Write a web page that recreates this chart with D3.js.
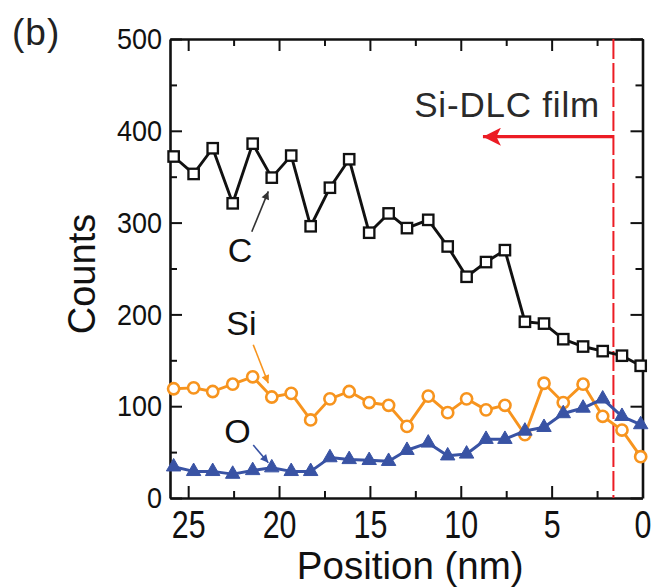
<!DOCTYPE html>
<html>
<head>
<meta charset="utf-8">
<script src="https://cdn.jsdelivr.net/npm/d3@7"></script>
<style>
  html, body { margin: 0; padding: 0; background: #fff; }
  svg { display: block; font-family: "Liberation Sans", Arial, Helvetica, sans-serif; }
</style>
</head>
<body>
<svg id="chart" width="653" height="588"></svg>
<script>
// ---- data ----
const positions = [25.8, 24.7, 23.65, 22.55, 21.45, 20.4, 19.33, 18.26, 17.2, 16.14, 15.04, 13.97, 12.96, 11.79, 10.72, 9.68, 8.61, 7.57, 6.47, 5.42, 4.36, 3.27, 2.19, 1.13, 0.1];
const carbon  = [372, 353, 381, 321, 386, 349, 373, 296, 338, 369, 289, 310, 294, 303, 274, 241, 257, 270, 192, 190, 173, 165, 160, 155, 144];
const silicon = [119, 120, 116, 124, 132, 110, 114, 85, 108, 116, 104, 101, 78, 111, 93, 108, 96, 101, 69, 125, 104, 124, 89, 74, 45];
const oxygen  = [34, 29, 29, 26, 30, 33, 29, 29, 44, 42, 41, 40, 52, 60, 46, 48, 64, 64, 73, 77, 92, 98, 108, 89, 80];
const xTicks = [25, 20, 15, 10, 5, 0];
const xMinorTicks = [22.5, 17.5, 12.5, 7.5, 2.5];
const yTicks = [0, 100, 200, 300, 400, 500];
const yMinorTicks = [50, 150, 250, 350, 450];
const interfacePos = 1.6;
const filmLabel = "Si-DLC film";
const xLabel = "Position (nm)";
const yLabel = "Counts";
const panelLabel = "(b)";
// annotation labels with arrows (data coordinates)
const annotations = [
  { label: "C",  color: "#333333", tx: 22.15, ty: 257, x1: 21.5,  y1: 290,   x2: 20.59, y2: 334 },
  { label: "Si", color: "#f7941e", tx: 22.07, ty: 178, x1: 21.42, y1: 167,   x2: 20.59, y2: 125 },
  { label: "O",  color: "#3953a4", tx: 22.29, ty: 60,  x1: 21.42, y1: 57.7,  x2: 20.59, y2: 38.5 }
];

const svg = d3.select("#chart");
const L = 170, R = 642.5, T = 39, B = 498;
const x = d3.scaleLinear().domain([26, 0]).range([L, R]);
const y = d3.scaleLinear().domain([0, 500]).range([B, T]);

const black = "#111";
const orange = "#f7941e";
const blue = "#3953a4";
const red = "#ec1c24";

// ---- axes (frame with inward ticks) ----
function styleAxis(g) {
  g.select(".domain").attr("stroke", black).attr("stroke-width", 2.6);
  g.selectAll(".tick line").attr("stroke", black).attr("stroke-width", 2);
}
// bottom
const gB = svg.append("g").attr("transform", `translate(0,${B})`)
  .call(d3.axisBottom(x).tickValues(xTicks).tickSize(-12).tickSizeOuter(0).tickPadding(13).tickFormat(d3.format("d")));
styleAxis(gB);
gB.selectAll(".tick text").attr("font-size", 38).attr("fill", black)
  .attr("font-family", "Liberation Sans, Arial, sans-serif").attr("transform", "scale(0.8,1)");
svg.append("g").attr("transform", `translate(0,${B})`)
  .call(d3.axisBottom(x).tickValues(xMinorTicks).tickSize(-7).tickSizeOuter(0).tickFormat(""))
  .call(g => { g.select(".domain").remove(); g.selectAll(".tick line").attr("stroke", black).attr("stroke-width", 2); });
// top
const gT = svg.append("g").attr("transform", `translate(0,${T})`)
  .call(d3.axisTop(x).tickValues(xTicks).tickSize(-12).tickSizeOuter(0).tickFormat(""));
styleAxis(gT);
svg.append("g").attr("transform", `translate(0,${T})`)
  .call(d3.axisTop(x).tickValues(xMinorTicks).tickSize(-7).tickSizeOuter(0).tickFormat(""))
  .call(g => { g.select(".domain").remove(); g.selectAll(".tick line").attr("stroke", black).attr("stroke-width", 2); });
// left
const gL = svg.append("g").attr("transform", `translate(${L},0)`)
  .call(d3.axisLeft(y).tickValues(yTicks).tickSize(-12).tickSizeOuter(0).tickPadding(9).tickFormat(d3.format("d")));
styleAxis(gL);
gL.selectAll(".tick text").attr("font-size", 30).attr("fill", black)
  .attr("font-family", "Liberation Sans, Arial, sans-serif").attr("transform", "scale(0.9,1)");
svg.append("g").attr("transform", `translate(${L},0)`)
  .call(d3.axisLeft(y).tickValues(yMinorTicks).tickSize(-7).tickSizeOuter(0).tickFormat(""))
  .call(g => { g.select(".domain").remove(); g.selectAll(".tick line").attr("stroke", black).attr("stroke-width", 2); });
// right
const gR = svg.append("g").attr("transform", `translate(${R},0)`)
  .call(d3.axisRight(y).tickValues(yTicks).tickSize(-12).tickSizeOuter(0).tickFormat(""));
styleAxis(gR);
svg.append("g").attr("transform", `translate(${R},0)`)
  .call(d3.axisRight(y).tickValues(yMinorTicks).tickSize(-7).tickSizeOuter(0).tickFormat(""))
  .call(g => { g.select(".domain").remove(); g.selectAll(".tick line").attr("stroke", black).attr("stroke-width", 2); });

// ---- axis titles ----
svg.append("text").attr("x", (L + R) / 2 + 4).attr("y", 579)
  .attr("text-anchor", "middle").attr("font-size", 38.5).attr("fill", black).text(xLabel);
svg.append("text").attr("transform", `translate(95,${274}) rotate(-90)`)
  .attr("text-anchor", "middle").attr("font-size", 38).attr("fill", black).text(yLabel);
svg.append("text").attr("x", 12).attr("y", 45)
  .attr("font-size", 37).attr("fill", "#222").attr("letter-spacing", 1).text(panelLabel);

// ---- interface line and film arrow ----
svg.append("line")
  .attr("x1", x(interfacePos)).attr("x2", x(interfacePos))
  .attr("y1", T).attr("y2", B)
  .attr("stroke", red).attr("stroke-width", 2).attr("stroke-dasharray", "20,4");

const defs = svg.append("defs");
defs.append("marker").attr("id", "redHead").attr("viewBox", "0 0 10 10")
  .attr("refX", 10).attr("refY", 5).attr("markerUnits", "userSpaceOnUse")
  .attr("markerWidth", 30).attr("markerHeight", 18).attr("orient", "auto")
  .append("path").attr("d", "M0,0 L10,5 L0,10 L2.5,5 Z").attr("fill", red);
svg.append("line")
  .attr("x1", x(interfacePos)).attr("x2", x(8.78))
  .attr("y1", y(393.6)).attr("y2", y(393.6))
  .attr("stroke", red).attr("stroke-width", 3.3).attr("marker-end", "url(#redHead)");
svg.append("text").attr("x", x(2.34)).attr("y", y(415))
  .attr("text-anchor", "end").attr("font-size", 35).attr("letter-spacing", 0.8)
  .attr("fill", "#2a2a2a").text(filmLabel);

// ---- series ----
const lineGen = vals => d3.line().x((d, i) => x(positions[i])).y(d => y(d))(vals);

// Si (orange, open circles)
svg.append("path").attr("d", lineGen(silicon)).attr("fill", "none")
  .attr("stroke", orange).attr("stroke-width", 2.9).attr("stroke-linejoin", "round");
svg.append("g").selectAll("circle").data(silicon).join("circle")
  .attr("cx", (d, i) => x(positions[i])).attr("cy", d => y(d)).attr("r", 5.6)
  .attr("fill", "#fff").attr("stroke", orange).attr("stroke-width", 2.6);

// O (blue, filled triangles)
svg.append("path").attr("d", lineGen(oxygen)).attr("fill", "none")
  .attr("stroke", blue).attr("stroke-width", 3).attr("stroke-linejoin", "round");
svg.append("g").selectAll("path").data(oxygen).join("path")
  .attr("transform", (d, i) => `translate(${x(positions[i])},${y(d)})`)
  .attr("d", d3.symbol().type(d3.symbolTriangle).size(90))
  .attr("fill", blue).attr("stroke", blue).attr("stroke-width", 1);

// C (black, open squares)
svg.append("path").attr("d", lineGen(carbon)).attr("fill", "none")
  .attr("stroke", black).attr("stroke-width", 2.9).attr("stroke-linejoin", "round");
svg.append("g").selectAll("rect").data(carbon).join("rect")
  .attr("x", (d, i) => x(positions[i]) - 5.2).attr("y", d => y(d) - 5.2)
  .attr("width", 10.4).attr("height", 10.4)
  .attr("fill", "#fff").attr("stroke", black).attr("stroke-width", 2.3);

// ---- annotations ----
annotations.forEach((a, k) => {
  defs.append("marker").attr("id", "ah" + k).attr("viewBox", "0 0 10 10")
    .attr("refX", 10).attr("refY", 5).attr("markerUnits", "userSpaceOnUse")
    .attr("markerWidth", 10).attr("markerHeight", 8).attr("orient", "auto")
    .append("path").attr("d", "M0,0 L10,5 L0,10 Z").attr("fill", a.color);
  svg.append("line")
    .attr("x1", x(a.x1)).attr("y1", y(a.y1)).attr("x2", x(a.x2)).attr("y2", y(a.y2))
    .attr("stroke", a.color).attr("stroke-width", 1.6).attr("marker-end", `url(#ah${k})`);
  svg.append("text").attr("x", x(a.tx)).attr("y", y(a.ty))
    .attr("text-anchor", "middle").attr("font-size", 34).attr("fill", "#111").text(a.label);
});
</script>
</body>
</html>
